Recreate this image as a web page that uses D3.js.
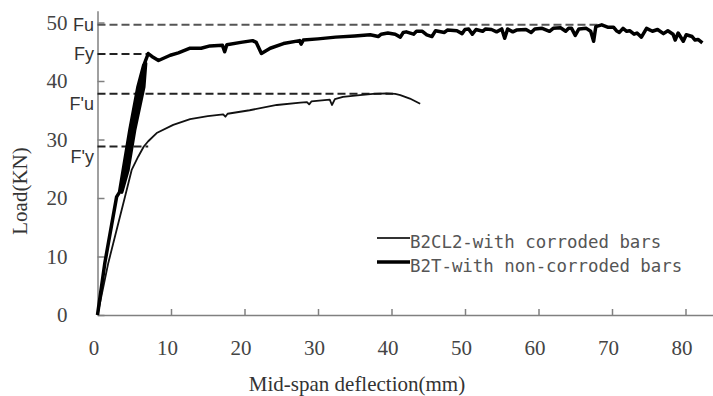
<!DOCTYPE html>
<html>
<head>
<meta charset="utf-8">
<script src="https://cdn.jsdelivr.net/npm/d3@7"></script>
<style>
    body { margin: 0; background: #fff; }
    #chart svg { display: block; }
</style>
</head>
<body>
<div id="chart"></div>
<script>
// B2CL2 (corroded bars): [deflection mm, load kN]
var corrodedData = [
    [0, 0], [1.47, 8.9], [3.74, 20.2], [4.65, 24.8], [5.55, 27.1], [6.3, 28.8], [6.9, 29.7],
    [8.05, 31.1], [10.3, 32.5], [12.6, 33.5], [15.0, 34.0], [17.1, 34.3], [17.4, 33.9],
    [17.7, 34.4], [20.7, 35.0], [24.4, 35.9], [27.6, 36.3], [28.5, 36.4], [28.8, 36.0],
    [29.1, 36.5], [31.6, 36.8], [31.9, 35.9], [32.3, 36.9], [33.4, 37.3], [35.7, 37.6],
    [37.5, 37.8], [39.3, 37.9], [40.5, 37.8], [41.2, 37.6], [42.5, 37.0], [43.9, 36.1]
];

// B2T (non-corroded bars), incl. the reloading cycles that make the thick band
var soundData = [
    [0, 0], [1.0, 8.9], [2.6, 20.2], [3.0, 21.0], [4.4, 31.6], [5.5, 39.0], [6.3, 42.8],
    [6.55, 43.0], [6.3, 39.0], [5.05, 31.6], [4.15, 24.8], [3.3, 21.0], [4.7, 31.6],
    [5.9, 39.0], [6.5, 43.0], [6.1, 39.0], [4.9, 31.6], [3.9, 24.8], [3.15, 21.5],
    [4.5, 31.6], [5.7, 39.0], [6.4, 43.0], [6.9, 44.7], [7.4, 44.2], [8.3, 43.5],
    [9.9, 44.4], [11.0, 44.8], [12.6, 45.6], [14.1, 45.6], [15.3, 46.0], [17.0, 46.1],
    [17.3, 45.0], [17.6, 46.2], [19.5, 46.6], [21.1, 46.9], [21.6, 46.6], [22.3, 44.7],
    [23.5, 45.6], [25.3, 46.4], [27.5, 46.9], [27.7, 46.3], [28.0, 47.0], [30.0, 47.2],
    [32.4, 47.5], [35.0, 47.7], [37.1, 47.9], [38.2, 47.6], [38.6, 48.0], [39.5, 48.2],
    [40.5, 48.0], [41.2, 47.5], [41.6, 48.3], [42.0, 48.4], [43.0, 48.0], [43.4, 48.5],
    [44.2, 48.5], [44.8, 47.9], [45.5, 47.6], [46.0, 48.6], [47.2, 48.3], [47.6, 48.7],
    [48.9, 48.6], [49.6, 48.1], [50.0, 48.8], [50.5, 48.9], [51.0, 48.0], [51.5, 48.8],
    [52.4, 48.5], [52.8, 48.9], [53.6, 48.8], [54.3, 48.4], [55.0, 48.9], [55.4, 47.3],
    [55.8, 48.9], [56.5, 48.4], [57.0, 48.7], [58.3, 48.8], [59.0, 48.3], [59.5, 48.9],
    [60.5, 49.0], [61.5, 48.5], [62.0, 49.0], [63.0, 49.1], [63.7, 48.5], [64.1, 49.0],
    [64.5, 49.0], [65.0, 47.8], [65.5, 48.9], [66.5, 49.0], [67.1, 48.5], [67.5, 46.8],
    [67.8, 49.3], [68.6, 49.6], [69.4, 49.2], [70.2, 49.2], [70.6, 48.6], [71.0, 48.3],
    [71.5, 49.0], [72.0, 48.5], [72.4, 48.6], [73.0, 48.0], [73.4, 48.2], [74.0, 47.5],
    [74.7, 49.0], [75.5, 48.5], [76.2, 48.8], [77.0, 48.1], [77.6, 48.6], [78.3, 48.0],
    [78.6, 47.0], [79.0, 48.2], [79.7, 46.8], [80.1, 47.9], [80.9, 47.6], [81.3, 47.0],
    [81.7, 47.1], [82.3, 46.5]
];

// characteristic loads and where their dashed guides stop (mm)
var refLabels = ["Fu", "Fy", "F'u", "F'y"];
var refLoads = [49.6, 44.6, 37.8, 28.8];
var refEnds = [68.6, 7.0, 40.2, 6.9];

var xTicks = [0, 10, 20, 30, 40, 50, 60, 70, 80];
var yTicks = [0, 10, 20, 30, 40, 50];
var legendLabels = ["B2CL2-with corroded bars", "B2T-with non-corroded bars"];

function drawChart() {
    let svg = d3.select("#chart")
        .append("svg")
        .attr("width", 713)
        .attr("height", 396);

    var x = d3.scaleLinear().domain([0, 84]).range([97.5, 714.9]);
    var y = d3.scaleLinear().domain([0, 52]).range([315, 10.8]);

    // axes with ticks pointing into the plot
    var xAxis = d3.axisBottom(x)
        .tickValues(xTicks)
        .tickSizeInner(-6)
        .tickSizeOuter(0)
        .tickPadding(25);

    var yAxis = d3.axisLeft(y)
        .tickValues(yTicks)
        .tickSizeInner(-7)
        .tickSizeOuter(0)
        .tickPadding(30);

    let gx = svg.append("g")
        .attr("transform", "translate(0," + y(0) + ")")
        .call(xAxis);
    gx.selectAll("text").attr("dx", -4);

    let gy = svg.append("g")
        .attr("transform", "translate(" + x(0) + ",0)")
        .call(yAxis);

    svg.selectAll(".domain, .tick line")
        .attr("stroke", "#808080")
        .attr("stroke-width", 1.5);
    svg.selectAll(".tick text")
        .attr("fill", "#444")
        .style("font-family", "'Liberation Serif', 'Times New Roman', serif")
        .style("font-size", "21px");

    // dashed guide lines for Fu, Fy, F'u, F'y
    refLoads.forEach(function (load, i) {
        svg.append("line")
            .attr("x1", x(0))
            .attr("x2", x(refEnds[i]))
            .attr("y1", y(load))
            .attr("y2", y(load))
            .attr("stroke", i == 0 ? "#555" : "#222")
            .attr("stroke-width", 2)
            .attr("stroke-dasharray", "8,4");

        svg.append("text")
            .attr("x", 94)
            .attr("y", y(load))
            .attr("dy", refLabels[i].indexOf("'") > -1 ? 16 : 6)
            .attr("text-anchor", "end")
            .attr("fill", "#333")
            .style("font-family", "'Liberation Sans', Arial, sans-serif")
            .style("font-size", "18px")
            .text(refLabels[i]);
    });

    let line = d3.line()
        .x(d => x(d[0]))
        .y(d => y(d[1]));

    svg.append("path")
        .datum(corrodedData)
        .attr("d", line)
        .attr("fill", "none")
        .attr("stroke", "#111")
        .attr("stroke-width", 1.8)
        .attr("stroke-linejoin", "round");

    svg.append("path")
        .datum(soundData)
        .attr("d", line)
        .attr("fill", "none")
        .attr("stroke", "#000")
        .attr("stroke-width", 3.5)
        .attr("stroke-linejoin", "round");

    // legend
    let legend = svg.append("g").attr("transform", "translate(377,238)");
    legendLabels.forEach(function (label, i) {
        legend.append("line")
            .attr("x1", 0)
            .attr("x2", 33)
            .attr("y1", i * 24)
            .attr("y2", i * 24)
            .attr("stroke", i == 0 ? "#333" : "#000")
            .attr("stroke-width", i == 0 ? 2 : 3.5);
        legend.append("text")
            .attr("x", 33)
            .attr("y", i * 24 + 10)
            .attr("fill", "#555")
            .style("font-family", "'DejaVu Sans Mono', monospace")
            .style("font-size", "17.4px")
            .text(label);
    });

    // axis titles
    svg.append("text")
        .attr("x", 357)
        .attr("y", 391)
        .attr("text-anchor", "middle")
        .attr("fill", "#333")
        .style("font-family", "'Liberation Serif', 'Times New Roman', serif")
        .style("font-size", "21px")
        .text("Mid-span deflection(mm)");

    svg.append("text")
        .attr("transform", "translate(27,191) rotate(-90)")
        .attr("text-anchor", "middle")
        .attr("fill", "#333")
        .style("font-family", "'Liberation Serif', 'Times New Roman', serif")
        .style("font-size", "21px")
        .text("Load(KN)");
}

drawChart();
</script>
</body>
</html>
